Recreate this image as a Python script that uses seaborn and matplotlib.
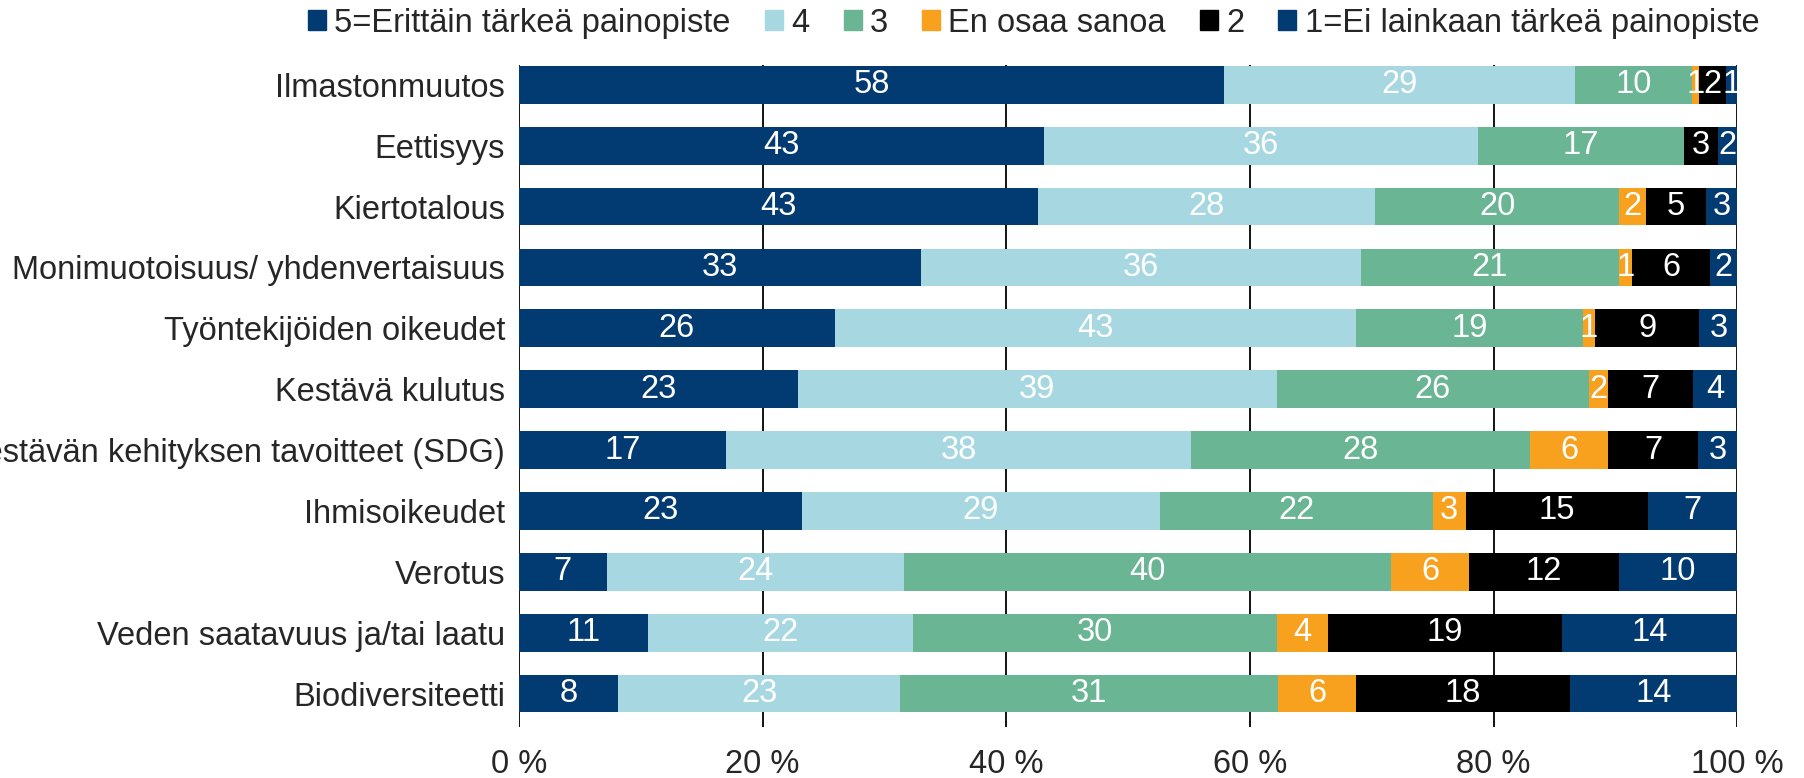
import matplotlib
matplotlib.use("Agg")
import matplotlib.pyplot as plt
import numpy as np
import pandas as pd
import seaborn as sns

# ---------------------------------------------------------------------------
# Data (shares in %)
# ---------------------------------------------------------------------------
categories = [
    "Ilmastonmuutos",
    "Eettisyys",
    "Kiertotalous",
    "Monimuotoisuus/ yhdenvertaisuus",
    "Työntekijöiden oikeudet",
    "Kestävä kulutus",
    "Kestävän kehityksen tavoitteet (SDG)",
    "Ihmisoikeudet",
    "Verotus",
    "Veden saatavuus ja/tai laatu",
    "Biodiversiteetti",
]
series_names = [
    "5=Erittäin tärkeä painopiste",
    "4",
    "3",
    "En osaa sanoa",
    "2",
    "1=Ei lainkaan tärkeä painopiste",
]
s5 = [57.9, 43.1, 42.6, 33.0, 25.9, 22.9, 17.0, 23.2, 7.2, 10.6, 8.1]
s4 = [28.8, 35.6, 27.7, 36.1, 42.8, 39.3, 38.2, 29.4, 24.4, 21.7, 23.2]
s3 = [9.6, 16.9, 20.0, 21.2, 18.6, 25.6, 27.8, 22.4, 40.0, 29.9, 31.0]
eos = [0.6, 0.0, 2.2, 1.1, 1.0, 1.6, 6.4, 2.7, 6.4, 4.2, 6.4]
s2 = [2.2, 2.8, 4.9, 6.4, 8.6, 7.0, 7.4, 15.0, 12.3, 19.2, 17.6]
s1 = [0.9, 1.6, 2.6, 2.2, 3.1, 3.6, 3.2, 7.3, 9.7, 14.4, 13.7]

colors = ["#023a72", "#a7d8e1", "#69b594", "#f7a11f", "#000000", "#023a72"]
x_ticks = [0, 20, 40, 60, 80, 100]

# ---------------------------------------------------------------------------
# Plot
# ---------------------------------------------------------------------------
sns.set_theme(style="white")
plt.rcParams["font.family"] = ["Liberation Sans", "DejaVu Sans"]
FS = 23.5

df = pd.DataFrame(
    np.array([s5, s4, s3, eos, s2, s1]).T, columns=series_names, index=categories
)
cum = df.cumsum(axis=1)

fig = plt.figure(figsize=(18.04, 7.78), dpi=100)
ax = fig.add_axes([0.2877, 0.0655, 0.963 - 0.2877, 0.916 - 0.0655])

# draw cumulative totals from the right-most series back to the first
for name, color in reversed(list(zip(series_names, colors))):
    sns.barplot(
        x=cum[name].values, y=categories, order=categories, orient="h",
        color=color, saturation=1, width=0.62, linewidth=0, ax=ax, zorder=3,
    )

# segment labels
for i, cat in enumerate(categories):
    left = 0.0
    for name in series_names:
        v = df.loc[cat, name]
        if v > 0:
            ax.text(left + v / 2, i, f"{round(v):d}", ha="center", va="center",
                    color="white", fontsize=FS, zorder=5)
        left += v

ax.set_xlim(0, 100)
ax.set_ylim(10.55, -0.32)
ax.set_xticks(x_ticks)
ax.set_xticklabels([f"{t} %" for t in x_ticks], fontsize=FS)
ax.tick_params(axis="x", length=0, pad=16)
ax.tick_params(axis="y", length=0, pad=10, labelsize=FS)
ax.set_xlabel("")
ax.set_ylabel("")
for s in ax.spines.values():
    s.set_visible(False)
ax.xaxis.grid(True, color="black", linewidth=1.3, zorder=0)
ax.set_axisbelow(True)

handles = [plt.Rectangle((0, 0), 1, 1, color=c) for c in colors]
fig.legend(
    handles, series_names, loc="center", bbox_to_anchor=(0.573, 0.97), ncol=6,
    frameon=False, fontsize=FS, handlelength=0.55, handleheight=0.55,
    handletextpad=0.25, columnspacing=1.05,
)

fig.savefig("out.png", dpi=100)
